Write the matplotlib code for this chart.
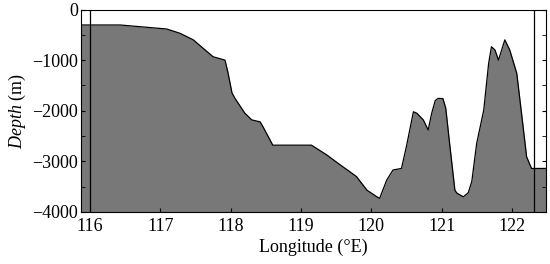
import numpy as np
import matplotlib.pyplot as plt
from matplotlib.ticker import MultipleLocator

plt.rcParams['font.family'] = ['Liberation Serif', 'DejaVu Serif']
plt.rcParams['mathtext.fontset'] = 'custom'
plt.rcParams['mathtext.it'] = 'Liberation Serif:italic'
plt.rcParams['mathtext.rm'] = 'Liberation Serif'

# bathymetry profile
lon = [115.87, 116.43, 117.09, 117.28, 117.47, 117.61, 117.75, 117.92, 117.96,
       118.02, 118.06, 118.20, 118.30, 118.42, 118.46, 118.60, 119.15, 119.37,
       119.53, 119.79, 119.94, 120.08, 120.12, 120.22, 120.31, 120.43, 120.50,
       120.60, 120.65, 120.74, 120.81, 120.86, 120.91, 120.95, 121.02, 121.06,
       121.12, 121.19, 121.22, 121.31, 121.38, 121.43, 121.50, 121.60, 121.67,
       121.71, 121.76, 121.81, 121.90, 121.97, 122.07, 122.16, 122.21, 122.28,
       122.48]
depth = [-306, -306, -385, -470, -600, -767, -933, -1000, -1230,
         -1650, -1750, -2045, -2180, -2220, -2315, -2680, -2680, -2875,
         -3040, -3300, -3570, -3700, -3730, -3370, -3170, -3140, -2710,
         -2020, -2050, -2180, -2380, -2050, -1800, -1755, -1760, -1950,
         -2710, -3570, -3630, -3700, -3620, -3400, -2645, -1990, -1063,
         -735, -800, -1000, -600, -800, -1260, -2315, -2910, -3140,
         -3140]
section_lines = [116.0, 122.32]

fig, ax = plt.subplots(figsize=(5.5, 2.64), dpi=100)
fig.subplots_adjust(left=0.147, right=0.992, bottom=0.197, top=0.964)

ax.fill_between(lon, depth, -4000, color='#787878', linewidth=0)
ax.plot(lon, depth, color='black', linewidth=0.9)
for x in section_lines:
    ax.axvline(x, color='black', linewidth=0.9)

ax.set_xlim(115.87, 122.48)
ax.set_ylim(-4000, 0)
ax.set_xticks([116, 117, 118, 119, 120, 121, 122])
ax.set_yticks([0, -1000, -2000, -3000, -4000])
ax.yaxis.set_minor_locator(MultipleLocator(500))
ax.tick_params(axis='both', which='both', direction='in', labelsize=13)
ax.tick_params(axis='y', which='both', right=True, length=3, pad=2)
ax.tick_params(axis='x', length=3, pad=4)
ax.set_xlabel('Longitude (°E)', fontsize=13, labelpad=3)
ax.set_ylabel(r'$\mathit{Depth}$ (m)', fontsize=13, labelpad=3)
for s in ax.spines.values():
    s.set_linewidth(0.8)

fig.savefig('out.png', dpi=100)
